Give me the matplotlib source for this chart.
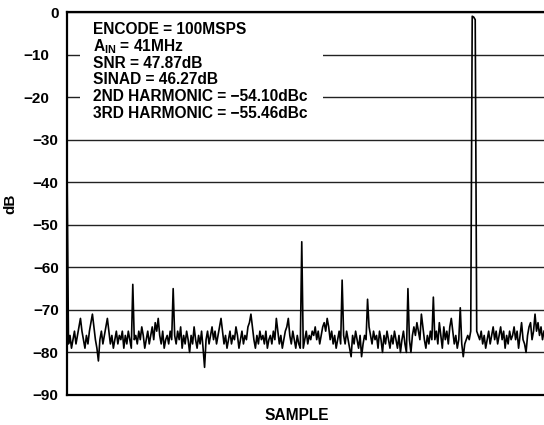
import numpy as np
import matplotlib
matplotlib.use("Agg")
import matplotlib.pyplot as plt
from matplotlib.patches import Rectangle
from matplotlib.transforms import ScaledTranslation

plt.rcParams["font.family"] = ["Liberation Sans", "DejaVu Sans"]
plt.rcParams["font.weight"] = "bold"
plt.rcParams["mathtext.fontset"] = "custom"
plt.rcParams["mathtext.rm"] = "Liberation Sans:bold"
plt.rcParams["mathtext.bf"] = "Liberation Sans:bold"
plt.rcParams["mathtext.it"] = "Liberation Sans:bold"

# FFT magnitude (dB), one value per bin
fft_db = [
    -35, -78, -76, -79, -77, -75, -78, -76, -74, -72, -75, -77, -79, -76, -78, -75, -73, -71, -74, -77,
    -79, -82, -77, -75, -78, -76, -74, -72, -75, -78, -76, -79, -77, -75, -78, -76, -77, -75, -79, -76,
    -78, -75, -77, -79, -64, -77, -76, -78, -75, -77, -74, -76, -79, -77, -75, -78, -76, -74, -77, -73,
    -75, -72, -76, -78, -75, -79, -77, -76, -78, -75, -77, -65, -76, -78, -75, -77, -74, -79, -76, -78,
    -75, -77, -80, -76, -78, -74, -77, -79, -76, -78, -75, -79, -83.5, -77, -75, -78, -76, -74, -77, -75,
    -78, -76, -74, -72, -75, -78, -76, -79, -77, -75, -78, -76, -77, -74, -76, -79, -77, -75, -78, -76,
    -77, -74, -73, -71, -74, -77, -79, -76, -78, -75, -77, -76, -78, -75, -79, -77, -76, -78, -75, -77,
    -72, -75, -78, -76, -79, -77, -75, -74, -72, -76, -78, -75, -77, -79, -76, -78, -79, -54, -79, -77,
    -75, -78, -76, -77, -75, -76, -74, -77, -75, -78, -76, -74, -73, -75, -72, -74, -77, -75, -78, -76,
    -79, -77, -75, -78, -63, -76, -78, -75, -77, -79, -81, -76, -78, -75, -77, -79, -76, -81, -78, -76,
    -77, -67.5, -74, -76, -78, -75, -77, -76, -79, -75, -77, -80, -76, -78, -75, -77, -79, -76, -78, -75,
    -77, -79, -76, -80, -77, -75, -78, -80, -65, -77, -80, -76, -74, -76, -73, -75, -77, -71, -74, -77,
    -79, -76, -78, -75, -77, -67, -77, -75, -78, -73, -76, -79, -74, -77, -75, -78, -74, -72, -75, -78,
    -76, -79, -77, -69.5, -78, -81, -78, -77, -76, -77, -75, -1, -1.2, -1.8, -75, -76, -77, -75, -78, -76,
    -79, -77, -75, -78, -76, -74, -77, -75, -78, -76, -74, -77, -75, -79, -76, -78, -75, -77, -76, -74,
    -77, -75, -79, -76, -73, -77, -78, -80, -76, -74, -73, -77, -75, -71, -75, -73, -76, -74, -77, -75,
]
yticks = [0, -10, -20, -30, -40, -50, -60, -70, -80, -90]
notes = [
    "ENCODE = 100MSPS",
    r"A$_{\mathrm{IN}}$ = 41MHz",
    "SNR = 47.87dB",
    "SINAD = 46.27dB",
    "2ND HARMONIC = \u221254.10dBc",
    "3RD HARMONIC = \u221255.46dBc",
]

W, H = 544, 425
fig = plt.figure(figsize=(W / 100, H / 100), dpi=100)
ax = fig.add_axes([67 / W, 1 - 395 / H, 1 - 67 / W, (395 - 12) / H])

ax.plot(np.arange(len(fft_db)), fft_db, color="black", lw=1.2, zorder=4)
ax.set_xlim(0, len(fft_db) - 1)
ax.set_ylim(-90, 0)
ax.set_xticks([])
ax.set_yticks(yticks)
ax.set_yticklabels([str(t).replace("-", "\u2212") for t in yticks])
ax.tick_params(axis="y", length=0, pad=6, labelsize=11)
ax.grid(axis="y", color="#222222", lw=1.0, zorder=1)
ax.set_axisbelow(True)
for s in ["left", "top", "bottom"]:
    ax.spines[s].set_linewidth(1.6)
ax.spines["right"].set_visible(False)

# the -10 and -20 labels sit a little further left in the original
for lab in ax.get_yticklabels()[1:3]:
    lab.set_transform(lab.get_transform() + ScaledTranslation(-9 / 100, 0, fig.dpi_scale_trans))

# white panel behind the notes hides the grid lines
ax.add_patch(Rectangle(((80 - 67) / 477, 1 - 112 / 383 - 0.02), (323 - 80) / 477, 112 / 383,
                       transform=ax.transAxes, facecolor="white", edgecolor="none", zorder=2))
for i, line in enumerate(notes):
    fig.text(93 / W, 1 - (34 + i * 16.8) / H, line, fontsize=11.2, fontweight="bold",
             ha="left", va="baseline", zorder=5)

ax.set_ylabel("dB", fontsize=11, fontweight="bold")
ax.yaxis.set_label_coords(-(67 - 17) / 477, 0.5)
fig.text(297 / W, 1 - 415 / H, "SAMPLE", fontsize=11.2, fontweight="bold",
         ha="center", va="center")

fig.savefig("out.png", dpi=100)
